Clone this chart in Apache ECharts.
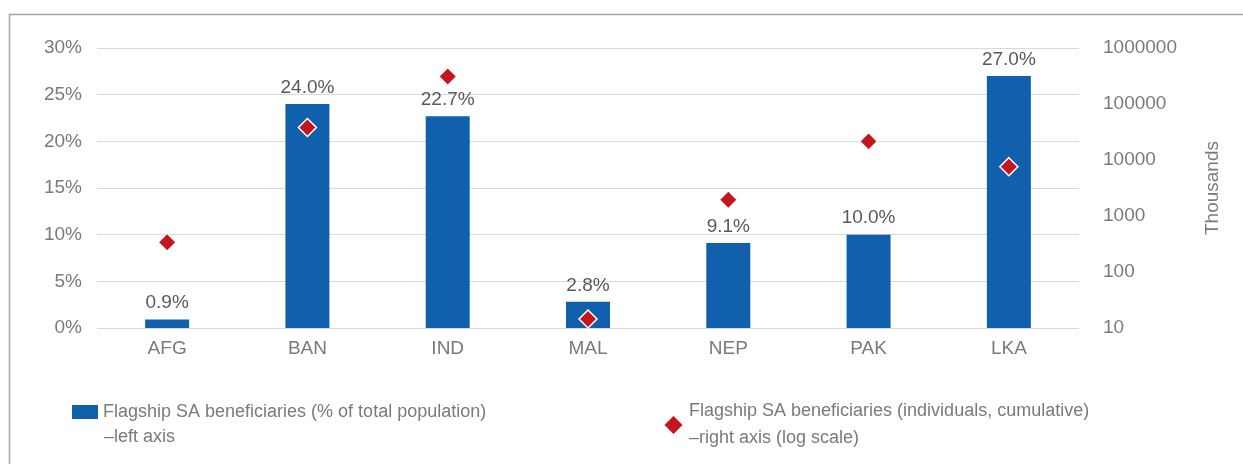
<!DOCTYPE html>
<html>
<head>
<meta charset="utf-8">
<script src="https://cdn.jsdelivr.net/npm/echarts@6/dist/echarts.min.js"></script>
<style>
  html, body { margin: 0; padding: 0; background: #fff; }
  #chart { width: 1243px; height: 464px; }
</style>
</head>
<body>
<div id="chart"></div>
<script>
var countries = ['AFG', 'BAN', 'IND', 'MAL', 'NEP', 'PAK', 'LKA'];
// share of total population, percent (left axis)
var sharePct = [0.9, 24.0, 22.7, 2.8, 9.1, 10.0, 27.0];
// individuals, cumulative, thousands (right axis, log scale)
var individuals = [340, 38000, 310000, 14.5, 1950, 21500, 7600];

var pctName = 'Flagship SA beneficiaries (% of total population)';
var pctName2 = '\u2013left axis';
var absName = 'Flagship SA beneficiaries (individuals, cumulative)\n\u2013right axis (log scale)';

var font = '"Liberation Sans", Arial, sans-serif';
var grey = '#7a7a7a';
var chart = echarts.init(document.getElementById('chart'));

var option = {
    textStyle: { fontFamily: font },
    animation: false,
    grid: { left: 97, right: 164, top: 48, bottom: 136 },
    graphic: [{
        type: 'rect',
        shape: { x: 9.5, y: 14.5, width: 1260, height: 480 },
        style: { fill: 'none', stroke: '#a6a6a6', lineWidth: 1.5 },
        silent: true
    }, {
        // second line of the first legend entry
        type: 'text',
        left: 104, top: 428,
        style: { text: pctName2, fill: grey, font: '18px ' + font },
        silent: true
    }],
    legend: [{
        left: 67, top: 398,
        data: [{ name: pctName, icon: 'rect' }],
        itemWidth: 26, itemHeight: 14,
        itemGap: 10,
        textStyle: { color: grey, fontSize: 18, fontFamily: font }
    }, {
        left: 657, top: 393,
        data: [{ name: absName, icon: 'diamond' }],
        itemWidth: 21, itemHeight: 21,
        itemGap: 10,
        textStyle: { color: grey, fontSize: 18, lineHeight: 27, fontFamily: font }
    }],
    xAxis: {
        type: 'category',
        data: countries,
        axisTick: { show: false },
        axisLine: { show: false },
        axisLabel: { color: grey, fontSize: 19, margin: 11 }
    },
    yAxis: [{
        type: 'value',
        min: 0, max: 30, interval: 5,
        axisLabel: { formatter: '{value}%', color: grey, fontSize: 19, margin: 15 },
        splitLine: { lineStyle: { color: '#d9d9d9', width: 1 } },
        axisLine: { show: false },
        axisTick: { show: false }
    }, {
        type: 'log',
        logBase: 10,
        min: 10, max: 1000000,
        name: 'Thousands',
        nameLocation: 'middle',
        nameRotate: 90,
        nameGap: 124,
        nameTextStyle: { color: grey, fontSize: 19 },
        axisLabel: {
            color: grey, fontSize: 19, margin: 24,
            formatter: function (v) { return String(Math.round(v)); }
        },
        splitLine: { show: false },
        axisLine: { show: false },
        axisTick: { show: false }
    }],
    series: [{
        name: pctName,
        type: 'bar',
        yAxisIndex: 0,
        data: sharePct,
        barWidth: 44,
        itemStyle: { color: '#1060ae' },
        label: {
            show: true,
            position: 'top',
            distance: 7,
            color: '#595959',
            fontSize: 19,
            formatter: function (p) { return p.value.toFixed(1) + '%'; }
        }
    }, {
        name: absName,
        type: 'scatter',
        yAxisIndex: 1,
        data: individuals,
        symbol: 'diamond',
        symbolSize: 18,
        itemStyle: { color: '#c4161c', opacity: 1, borderColor: '#ffffff', borderWidth: 1.5 },
        z: 5
    }]
};

chart.setOption(option);
</script>
</body>
</html>
